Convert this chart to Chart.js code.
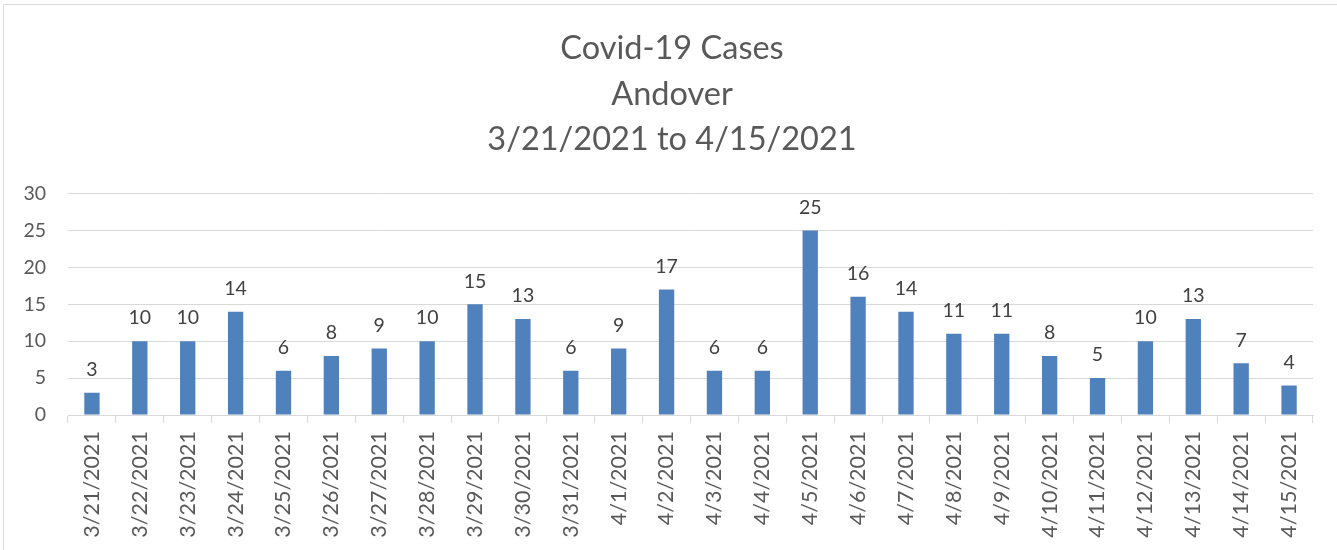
<!DOCTYPE html>
<html>
<head>
<meta charset="utf-8">
<script src="https://cdn.jsdelivr.net/npm/chart.js@4.4.0/dist/chart.umd.min.js"></script>
<style>
  html, body { margin: 0; padding: 0; background: #fff; overflow: hidden; }
  #frame { position: absolute; left: 3px; top: 4px; width: 1340px; height: 550px; border: 1px solid #d9d9d9; box-sizing: border-box; }
  #wrap { position: absolute; left: 0; top: 0; width: 1336px; height: 545px; }
</style>
</head>
<body>
<div id="frame"><div id="wrap"><canvas id="c"></canvas></div></div>
<script>
const titleLines = ["Covid-19 Cases", "Andover", "3/21/2021 to 4/15/2021"];
const categories = ["3/21/2021","3/22/2021","3/23/2021","3/24/2021","3/25/2021","3/26/2021","3/27/2021","3/28/2021","3/29/2021","3/30/2021","3/31/2021","4/1/2021","4/2/2021","4/3/2021","4/4/2021","4/5/2021","4/6/2021","4/7/2021","4/8/2021","4/9/2021","4/10/2021","4/11/2021","4/12/2021","4/13/2021","4/14/2021","4/15/2021"];
const cases = [3,10,10,14,6,8,9,10,15,13,6,9,17,6,6,25,16,14,11,11,8,5,10,13,7,4];
const yTicks = [0,5,10,15,20,25,30];

const FONT = "Lato, 'Open Sans', sans-serif";

const dataLabels = {
  id: 'dataLabels',
  afterDatasetsDraw(chart) {
    const ctx = chart.ctx;
    const meta = chart.getDatasetMeta(0);
    ctx.save();
    ctx.font = "19.5px " + FONT;
    ctx.fillStyle = "#404040";
    ctx.textAlign = "center";
    ctx.textBaseline = "middle";
    meta.data.forEach((bar, i) => {
      ctx.fillText(String(chart.data.datasets[0].data[i]), bar.x, bar.y - 23);
    });
    ctx.restore();
  }
};

new Chart(document.getElementById('c'), {
  type: 'bar',
  data: {
    labels: categories,
    datasets: [{
      data: cases,
      backgroundColor: '#4f81bd',
      borderWidth: 0,
      barPercentage: 1,
      categoryPercentage: 0.32
    }]
  },
  options: {
    responsive: true,
    maintainAspectRatio: false,
    animation: false,
    layout: { padding: { left: 0, right: 0, top: 0, bottom: 0 } },
    plugins: {
      legend: { display: false },
      tooltip: { enabled: false },
      title: {
        display: true,
        text: titleLines,
        color: '#595959',
        font: { family: FONT, size: 32.5, weight: 'normal', lineHeight: 1.4 },
        padding: { top: 21, bottom: 31 }
      }
    },
    scales: {
      x: {
        grid: { display: true, drawOnChartArea: false, drawTicks: true, tickLength: 8, color: '#d9d9d9', offset: true },
        border: { display: true, color: '#d9d9d9', width: 1 },
        ticks: { color: '#595959', font: { family: FONT, size: 21.5 }, minRotation: 90, maxRotation: 90, padding: 8, autoSkip: false },
        afterFit(scale) { scale.height = 135; }
      },
      y: {
        min: 0, max: 30,
        afterBuildTicks(scale) { scale.ticks = yTicks.map(v => ({ value: v })); },
        grid: { color: '#d9d9d9', drawTicks: false },
        border: { display: false },
        ticks: { color: '#595959', font: { family: FONT, size: 19.5 }, padding: 22 },
        afterFit(scale) { scale.width = 64; }
      },
      yRight: {
        position: 'right',
        min: 0, max: 30,
        grid: { display: false, drawTicks: false },
        border: { display: false },
        ticks: { display: false },
        afterFit(scale) { scale.width = 27; }
      }
    }
  },
  plugins: [dataLabels]
});
</script>
</body>
</html>
